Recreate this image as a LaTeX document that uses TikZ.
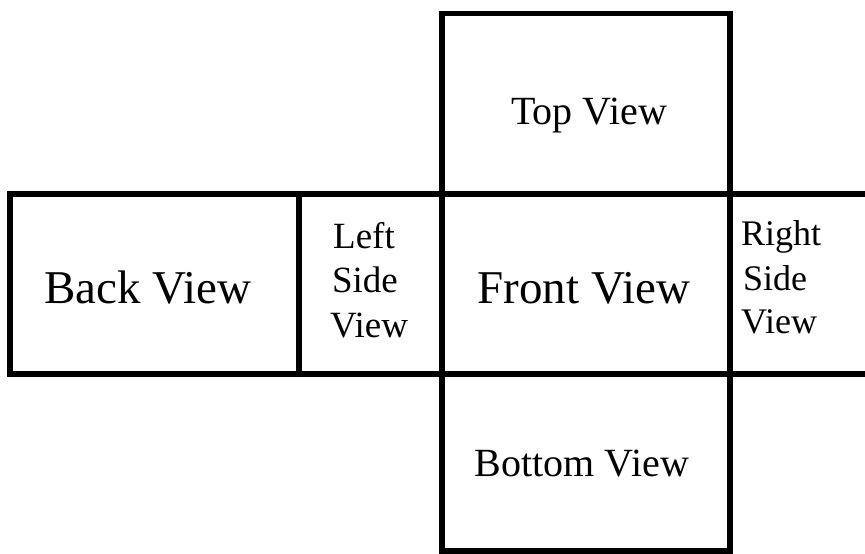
\documentclass[tikz,border=0pt]{standalone}
\usepackage{fontspec}
\setmainfont{Liberation Serif}
\begin{document}
\begin{tikzpicture}[x=1pt,y=-1pt,
  frame/.style={draw=black,line width=5.5pt,line cap=rect},
  big/.style={anchor=base,inner sep=0pt,font=\fontsize{47}{52}\selectfont},
  mid/.style={anchor=base,inner sep=0pt,font=\fontsize{40}{46}\selectfont},
  small/.style={anchor=base,inner sep=0pt,font=\fontsize{37}{42}\selectfont},
  tiny/.style={anchor=base west,inner sep=0pt,font=\fontsize{36}{42}\selectfont}]
\useasboundingbox (0,0) rectangle (865,554);
\fill[white] (0,0) rectangle (865,554);
% grid corners of the unfolded views
\coordinate (tl) at (442,13.5);
\coordinate (tr) at (730,13.5);
\coordinate (ml) at (10,194);
\coordinate (mr) at (868,194);
\coordinate (nl) at (10,374);
\coordinate (nr) at (868,374);
\coordinate (bl) at (442,551);
\coordinate (br) at (730,551);
\coordinate (s1t) at (299,194);
\coordinate (s1b) at (299,374);
% outline of the cross
\draw[frame] (nl) -- (ml) -- (mr);
\draw[frame] (nl) -- (nr);
\draw[frame] (s1t) -- (s1b);
\draw[frame] (bl) -- (tl) -- (tr) -- (br) -- cycle;
% labels
\node[mid]   (top)    at (589,124) {Top View};
\node[big]   (back)   at (148,303) {Back View};
\node[big]   (front)  at (584,303) {Front View};
\node[mid]   (bottom) at (582,476) {Bottom View};
\node[small] (left1)  at (364,248) {Left};
\node[small] (left2)  at (365,292) {Side};
\node[small] (left3)  at (369,337) {View};
\node[tiny]  (right1) at (741,245) {Right};
\node[tiny]  (right2) at (743,290) {Side};
\node[tiny]  (right3) at (741,333) {View};
\end{tikzpicture}
\end{document}
